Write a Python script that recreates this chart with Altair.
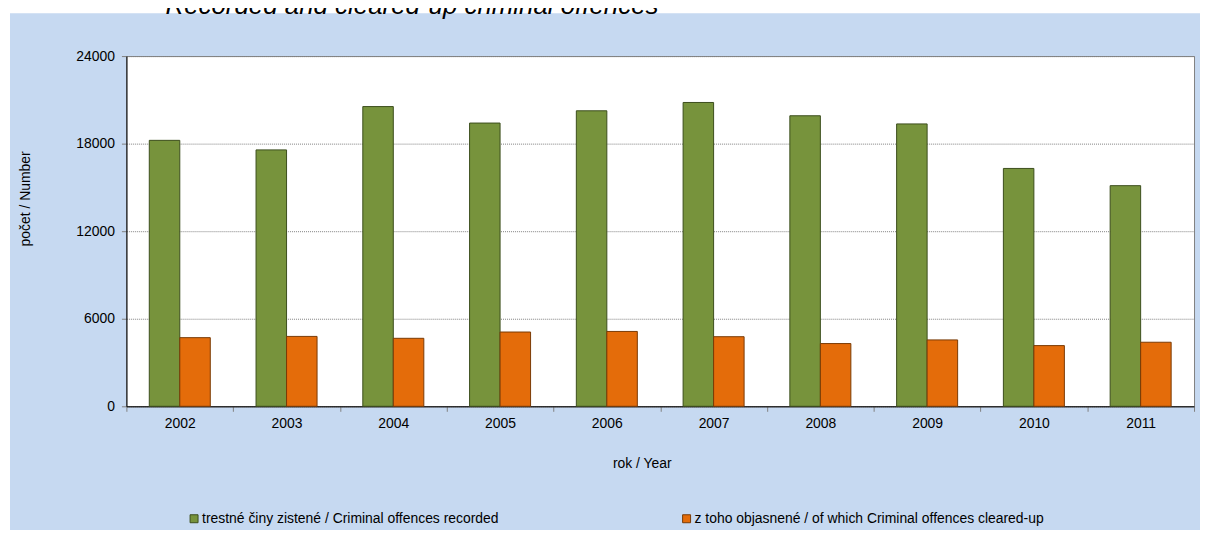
import altair as alt
import pandas as pd

# ---- data ----
years = ["2002", "2003", "2004", "2005", "2006", "2007", "2008", "2009", "2010", "2011"]
recorded = [18225, 17570, 20540, 19410, 20250, 20820, 19910, 19350, 16300, 15120]
cleared = [4705, 4790, 4660, 5090, 5130, 4770, 4300, 4550, 4160, 4390]
series_names = [
    "trestné činy zistené / Criminal offences recorded",
    "z toho objasnené / of which Criminal offences cleared-up",
]
fill_colors = ["#77933C", "#E46C0A"]
stroke_colors = ["#3B4E1C", "#7A3A05"]
y_ticks = [0, 6000, 12000, 18000, 24000]
title_text = "Recorded and cleared-up criminal offences"
x_title = "rok / Year"
y_title = "počet / Number"

rows = []
for i, yr in enumerate(years):
    rows.append({"year": yr, "series": series_names[0], "value": recorded[i]})
    rows.append({"year": yr, "series": series_names[1], "value": cleared[i]})
df = pd.DataFrame(rows)

FONT = "Liberation Sans"
BLUE = "#C6D9F1"
W, H = 1073, 352

bars = alt.Chart(df).mark_bar(strokeWidth=1).encode(
    x=alt.X(
        "year:N",
        scale=alt.Scale(paddingInner=0, paddingOuter=0),
        axis=alt.Axis(
            title=x_title,
            labelAngle=0,
            tickBand="extent",
            tickSize=5,
            tickColor="#808080",
            domainColor="#000000",
            labelPadding=5,
            labelFontSize=14,
            labelFont=FONT,
            labelColor="#000000",
            titleFontSize=14,
            titleFont=FONT,
            titleFontWeight="normal",
            titleColor="#000000",
            titleX=518,
            titleY=62,
            titleBaseline="alphabetic",
        ),
    ),
    xOffset=alt.XOffset(
        "series:N",
        scale=alt.Scale(domain=series_names, paddingInner=0, paddingOuter=0.75),
    ),
    y=alt.Y(
        "value:Q",
        scale=alt.Scale(domain=[0, 24000]),
        axis=alt.Axis(
            values=y_ticks,
            format="d",
            title=y_title,
            tickSize=5,
            tickColor="#808080",
            domainColor="#000000",
            labelPadding=7,
            labelFontSize=14,
            labelFont=FONT,
            labelColor="#000000",
            gridColor="#808080",
            gridDash=[1, 1],
            gridWidth=1,
            titleFontSize=14,
            titleFont=FONT,
            titleFontWeight="normal",
            titleColor="#000000",
            titleX=-97,
            titleY=143,
            titleBaseline="alphabetic",
        ),
    ),
    color=alt.Color(
        "series:N",
        scale=alt.Scale(domain=series_names, range=fill_colors),
        legend=alt.Legend(
            title=None,
            orient="none",
            legendX=61,
            legendY=458,
            direction="horizontal",
            symbolType="square",
            symbolSize=64,
            symbolStrokeColor="#404040",
            symbolStrokeWidth=1,
            labelFontSize=14,
            labelFont=FONT,
            labelColor="#000000",
            labelOffset=1,
            labelLimit=1000,
            columnPadding=181,
            padding=0,
        ),
    ),
    stroke=alt.Stroke(
        "series:N",
        scale=alt.Scale(domain=series_names, range=stroke_colors),
        legend=None,
    ),
)

one = pd.DataFrame({"k": [0]})
strip_top = alt.Chart(one).mark_rect(color="white").encode(
    x=alt.value(-140), x2=alt.value(1095), y=alt.value(-70), y2=alt.value(-43)
)
strip_left = alt.Chart(one).mark_rect(color="white").encode(
    x=alt.value(-140), x2=alt.value(-117), y=alt.value(-70), y2=alt.value(490)
)

title = alt.Chart(pd.DataFrame({"t": [title_text]})).mark_text(
    fontSize=26, fontStyle="italic", font=FONT, align="center",
    baseline="alphabetic", color="#000000",
).encode(x=alt.value(287), y=alt.value(-42), text="t:N")

chart = alt.layer(strip_top, strip_left, bars, title).properties(
    width=W,
    height=H,
    autosize=alt.AutoSizeParams(type="none"),
    padding={"left": 119, "top": 47, "right": 6, "bottom": 123},
    background=BLUE,
).configure_view(fill="#FFFFFF", stroke="#808080", strokeWidth=1)

chart.save("out.html", embed_options={"renderer": "svg", "actions": False})
